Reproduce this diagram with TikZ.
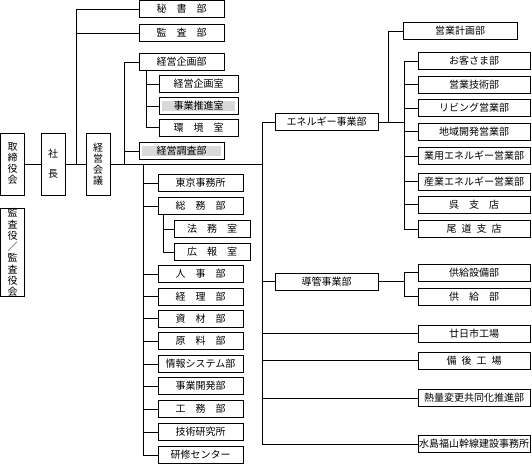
\documentclass[tikz,border=0pt]{standalone}
\usepackage{fontspec}
\setmainfont{Noto Sans CJK JP}
\usetikzlibrary{positioning}

\begin{document}
\begin{tikzpicture}[
        x=1pt, y=-1pt, line width=1pt,
        font=\fontsize{10}{11}\selectfont,
        box/.style={draw, rectangle, inner sep=0pt, minimum height=17pt},
        tall/.style={draw, rectangle, inner sep=0pt, minimum width=24pt, align=center},
        shaded/.style={box, path picture={\fill[black!15]
            ([xshift=3pt,yshift=-3.5pt]path picture bounding box.north west) rectangle
            ([xshift=-3pt,yshift=3.5pt]path picture bounding box.south east);}},
        dept/.style={box, minimum width=85pt},
        room/.style={box, minimum width=79pt},
        office/.style={box, minimum width=76pt},
        biz/.style={box, minimum width=103pt},
        branch/.style={box, minimum width=112pt}
    ]
        \useasboundingbox (0,0) rectangle (532,464);

        % top level
        \node[tall, minimum height=62pt] (board) at (12.5,164) {取\\締\\役\\会};
        \node[tall, minimum height=83pt, font=\fontsize{10}{11.3}\selectfont] (auditors) at (12.5,252.5) {監\\査\\役\\／\\監\\査\\役\\会};
        \node[tall, minimum height=62pt] (president) at (53,164) {社\\[9pt]長};
        \node[tall, minimum height=62pt] (council) at (98,164) {経\\営\\会\\議};

        % staff under the president
        \node[dept] (secretary) at (181.5,9) {秘　書　部};
        \node[dept] (audit) at (181.5,33) {監　査　部};
        \node[dept] (planning) at (181.5,62) {経営企画部};
        \node[room] (planroom) at (198.5,84) {経営企画室};
        \node[room, shaded] (promotion) at (198.5,106) {事業推進室};
        \node[room] (environment) at (198.5,127.5) {環　境　室};
        \node[dept, shaded] (research) at (181.5,151) {経営調査部};

        % departments
        \node[dept] (tokyo) at (200.5,183) {東京事務所};
        \node[dept] (general) at (200.5,206) {総　務　部};
        \node[office] (legal) at (212,229) {法　務　室};
        \node[office] (pr) at (212,252) {広　報　室};
        \node[dept] (personnel) at (200.5,274) {人　事　部};
        \node[dept] (accounting) at (200.5,296.5) {経　理　部};
        \node[dept] (materials) at (200.5,318.5) {資　材　部};
        \node[dept] (feedstock) at (200.5,341) {原　料　部};
        \node[dept] (infosys) at (200.5,364) {情報システム部};
        \node[dept] (devel) at (200.5,386) {事業開発部};
        \node[dept] (works) at (200.5,409) {工　務　部};
        \node[dept] (lab) at (200.5,432) {技術研究所};
        \node[dept] (training) at (200.5,455) {研修センター};

        % business units
        \node[biz] (energy) at (326.5,122) {エネルギー事業部};
        \node[biz] (pipeline) at (326.5,281.5) {導管事業部};
        \node[box, minimum width=114pt] (salesplan) at (460,31) {営業計画部};
        \node[branch] (customer) at (474,61) {お客さま部};
        \node[branch] (salestech) at (474,84.5) {営業技術部};
        \node[branch] (living) at (474,108) {リビング営業部};
        \node[branch] (regional) at (474,131.5) {地域開発営業部};
        \node[branch] (commercial) at (474,156) {業用エネルギー営業部};
        \node[branch] (industrial) at (474,181.5) {産業エネルギー営業部};
        \node[branch] (kure) at (474,204.5) {呉　支　店};
        \node[branch] (onomichi) at (474,229) {尾\hspace{5pt}道\hspace{5pt}支\hspace{5pt}店};
        \node[branch] (supplyeq) at (474,272.5) {供給設備部};
        \node[branch] (supply) at (474,296.5) {供　給　部};
        \node[branch] (hatsukaichi) at (474,333.5) {廿日市工場};
        \node[branch] (bingo) at (474,360.5) {備\hspace{5pt}後\hspace{5pt}工\hspace{5pt}場};
        \node[branch] (calorific) at (474,398) {熱量変更共同化推進部};
        \node[branch] (mizushima) at (474,444) {水島福山幹線建設事務所};

        % junctions
        \coordinate (ceo) at (76,164);
        \coordinate (plan) at (124,164);
        \coordinate (staff) at (143,164);
        \coordinate (bizline) at (262,164);
        \coordinate (ej) at (388,122);
        \coordinate (ek) at (404,122);
        \coordinate (pj) at (404,281.5);

        \draw (board) -- (president);
        \draw (president) -- (council);
        \draw (ceo) |- (secretary.west);
        \draw (ceo) |- (audit.west);

        \draw (council.east) -- (bizline);
        \draw (plan) |- (planning.west);
        \draw (plan) |- (research.west);
        \draw ([xshift=-35.5pt]planning.south) |- (planroom.west);
        \draw ([xshift=-35.5pt]planning.south) |- (promotion.west);
        \draw ([xshift=-35.5pt]planning.south) |- (environment.west);

        \draw (staff) |- (tokyo.west);
        \draw (staff) |- (general.west);
        \draw ([xshift=-37.5pt]general.south) |- (legal.west);
        \draw ([xshift=-37.5pt]general.south) |- (pr.west);
        \draw (staff) |- (personnel.west);
        \draw (staff) |- (accounting.west);
        \draw (staff) |- (materials.west);
        \draw (staff) |- (feedstock.west);
        \draw (staff) |- (infosys.west);
        \draw (staff) |- (devel.west);
        \draw (staff) |- (works.west);
        \draw (staff) |- (lab.west);
        \draw (staff) |- (training.west);

        \draw (bizline) |- (energy.west);
        \draw (bizline) |- (pipeline.west);
        \draw (bizline) |- (hatsukaichi.west);
        \draw (bizline) |- (bingo.west);
        \draw (bizline) |- (calorific.west);
        \draw (bizline) |- (mizushima.west);

        \draw (energy.east) -- (ek);
        \draw (ej) |- (salesplan.west);
        \draw (ek) |- (customer.west);
        \draw (ek) |- (salestech.west);
        \draw (ek) |- (living.west);
        \draw (ek) |- (regional.west);
        \draw (ek) |- (commercial.west);
        \draw (ek) |- (industrial.west);
        \draw (ek) |- (kure.west);
        \draw (ek) |- (onomichi.west);

        \draw (pipeline.east) -- (pj);
        \draw (pj) |- (supplyeq.west);
        \draw (pj) |- (supply.west);
    \end{tikzpicture}
\end{document}
